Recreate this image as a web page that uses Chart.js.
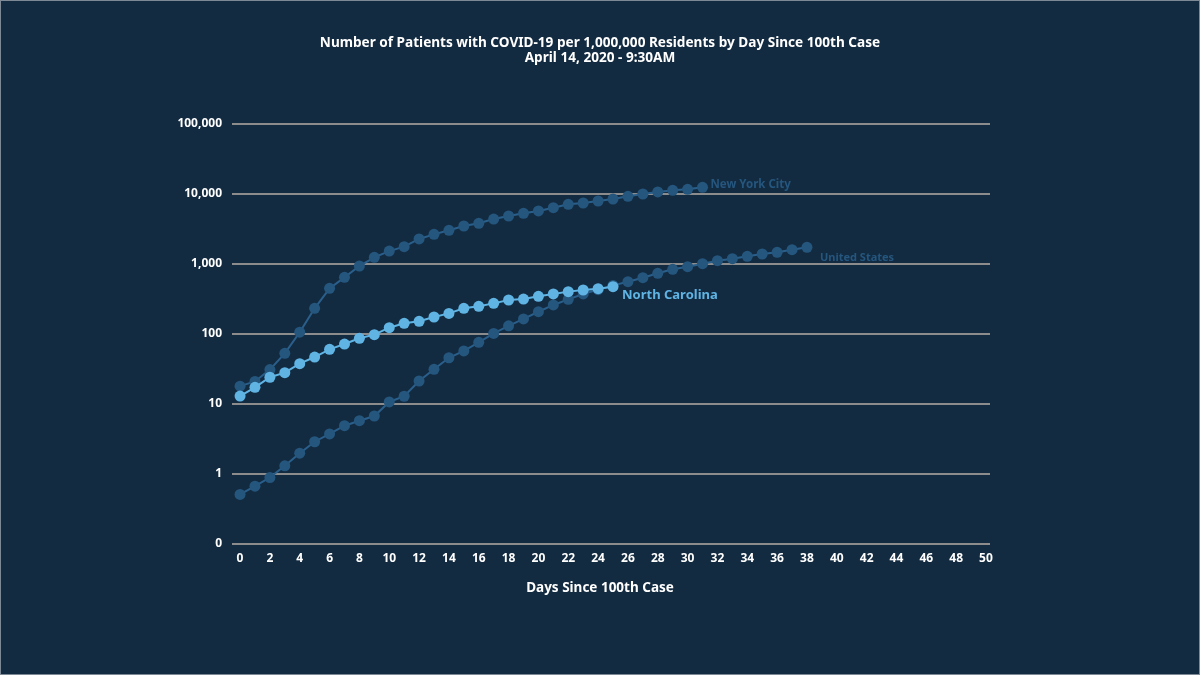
<!DOCTYPE html>
<html>
<head>
<meta charset="utf-8">
<script src="https://cdn.jsdelivr.net/npm/chart.js@4.4.0/dist/chart.umd.min.js"></script>
<style>
  html, body { margin: 0; padding: 0; background: #132b41; }
  canvas { display: block; }
</style>
</head>
<body>
<canvas id="myChart" width="1200" height="675"></canvas>
<script>
// values per 1,000,000 residents, index = days since 100th case
const nycValues = [18, 21, 31, 53, 106, 233, 449, 645, 936, 1245, 1530, 1770, 2280, 2650, 3030, 3490,
  3810, 4390, 4850, 5300, 5720, 6370, 7130, 7440, 7940, 8480, 9270, 10000, 10690, 11300, 11670, 12470];
const usValues = [0.51, 0.67, 0.89, 1.31, 1.98, 2.89, 3.73, 4.9, 5.77, 6.74, 10.7, 12.9, 21.3, 31.3, 45.8, 57.2,
  76, 102, 131, 164, 208, 260, 313, 373, 430, 495, 559, 638, 736, 839, 916, 1011, 1116, 1191, 1289, 1389, 1468, 1600, 1733];
const ncValues = [13, 17.3, 24.1, 28, 37.7, 46.9, 60.4, 71.9, 86.8, 97.8, 123, 142, 152, 175, 197, 233,
  249, 274, 306, 316, 345, 373, 403, 425, 444, 474];

const xTicks = [0, 2, 4, 6, 8, 10, 12, 14, 16, 18, 20, 22, 24, 26, 28, 30, 32, 34, 36, 38, 40, 42, 44, 46, 48, 50];
const yTicks = [0.1, 1, 10, 100, 1000, 10000, 100000];
const yTickLabels = ['0', '1', '10', '100', '1,000', '10,000', '100,000'];

const titleLines = ['Number of Patients with COVID-19 per 1,000,000 Residents by Day Since 100th Case', 'April 14, 2020 - 9:30AM'];
const xTitle = 'Days Since 100th Case';

const dark = '#25567e';
const darkLine = '#2a5f8c';
const light = '#5fb4e4';
const fontFamily = '"Noto Sans", "DejaVu Sans", sans-serif';

const toPoints = (vals) => vals.map((v, i) => ({ x: i, y: v }));

const series = [
  { label: 'North Carolina', data: ncValues, color: light, line: light, font: 'bold 13px', dx: 9, dy: 9 },
  { label: 'New York City', data: nycValues, color: dark, line: darkLine, font: 'bold 11.5px', dx: 8, dy: -3 },
  { label: 'United States', data: usValues, color: dark, line: darkLine, font: 'bold 11px', dx: 13, dy: 11 }
];

const textPlugin = {
  id: 'texts',
  beforeDraw(chart) {
    const ctx = chart.ctx;
    ctx.save();
    ctx.fillStyle = '#132b41';
    ctx.fillRect(0, 0, chart.width, chart.height);
    ctx.strokeStyle = '#7d8a96';
    ctx.lineWidth = 1;
    ctx.strokeRect(0.5, 0.5, chart.width - 1, chart.height - 1);
    ctx.restore();
  },
  afterDraw(chart) {
    const ctx = chart.ctx;
    ctx.save();
    ctx.fillStyle = '#ffffff';
    ctx.textAlign = 'center';
    ctx.textBaseline = 'middle';
    ctx.font = 'bold 13.6px ' + fontFamily;
    ctx.fillText(titleLines[0], 600, 43);
    ctx.fillText(titleLines[1], 600, 58);
    ctx.font = 'bold 13.5px ' + fontFamily;
    ctx.fillText(xTitle, 600, 588);

    // series labels at the end of each line
    const xs = chart.scales.x, ys = chart.scales.y;
    ctx.textAlign = 'left';
    series.forEach(s => {
      const last = s.data.length - 1;
      const px = xs.getPixelForValue(last);
      const py = ys.getPixelForValue(s.data[last]);
      ctx.fillStyle = s.color;
      ctx.font = s.font + ' ' + fontFamily;
      ctx.fillText(s.label, px + s.dx, py + s.dy);
    });
    ctx.restore();
  }
};

new Chart(document.getElementById('myChart'), {
  type: 'line',
  data: {
    datasets: series.map(s => ({
      label: s.label,
      data: toPoints(s.data),
      borderColor: s.line,
      backgroundColor: s.color,
      pointBackgroundColor: s.color,
      pointBorderWidth: 0,
      pointRadius: 5.5,
      borderWidth: 2,
      tension: 0
    }))
  },
  options: {
    responsive: false,
    animation: false,
    layout: { padding: { left: 0, right: 210, top: 124, bottom: 0 } },
    plugins: {
      legend: { display: false },
      title: { display: false },
      tooltip: { enabled: false }
    },
    scales: {
      x: {
        type: 'linear',
        min: -0.54,
        max: 50.27,
        grid: { display: false, drawTicks: false },
        border: { display: false },
        afterBuildTicks: (scale) => { scale.ticks = xTicks.map(v => ({ value: v })); },
        afterFit: (scale) => { scale.height = 131; },
        ticks: {
          color: '#ffffff',
          padding: 7,
          autoSkip: false,
          maxRotation: 0,
          font: { family: fontFamily, size: 12, weight: 'bold' },
          callback: (v) => String(v)
        }
      },
      y: {
        type: 'logarithmic',
        min: 0.1,
        max: 100000,
        grid: { color: '#8c8c8c', lineWidth: 2, drawTicks: false },
        border: { display: false },
        afterBuildTicks: (scale) => { scale.ticks = yTicks.map(v => ({ value: v })); },
        afterFit: (scale) => { scale.width = 232; },
        ticks: {
          color: '#ffffff',
          padding: 10,
          font: { family: fontFamily, size: 12, weight: 'bold' },
          callback: (v) => yTickLabels[yTicks.indexOf(v)]
        }
      }
    }
  },
  plugins: [textPlugin]
});
</script>
</body>
</html>
